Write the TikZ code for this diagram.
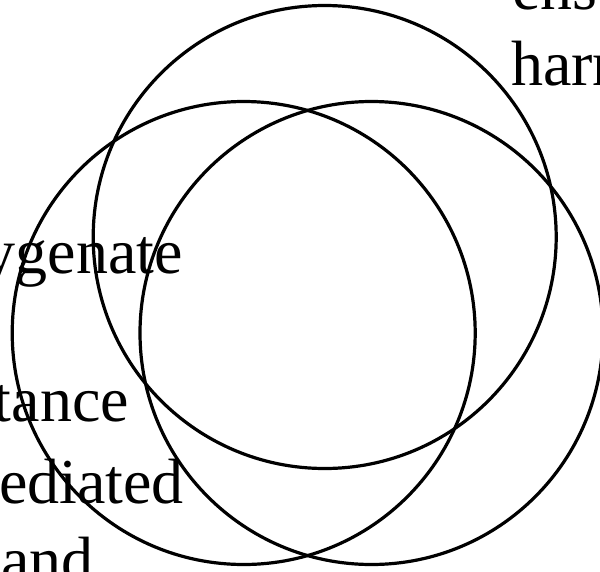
\documentclass[tikz,border=0pt]{standalone}
\usepackage{fontspec}
\setmainfont{Liberation Serif}
\begin{document}
\begin{tikzpicture}[x=1pt,y=-1pt,
  ring/.style={draw=black,line width=3.2pt,circle,minimum size=463pt,inner sep=0pt},
  lbl/.style={font=\fontsize{64}{76}\selectfont,inner sep=0pt,text=black}]
\useasboundingbox (0,0) rectangle (600,571);
\node[lbl,anchor=base east] (t1) at (183,273) {ygenate};
\node[lbl,anchor=base east] (t2) at (129,421) {tance};
\node[lbl,anchor=base east] (t3) at (184,503) {ediated};
\node[lbl,anchor=base west] (t4) at (1,581) {and};
\node[lbl,anchor=base west] (t5) at (512,9) {ens};
\node[lbl,anchor=base west] (t6) at (511,85) {harn};
\node[ring] (top) at (324.7,237) {};
\node[ring] (left) at (243.7,333) {};
\node[ring] (right) at (371.5,333) {};
\end{tikzpicture}
\end{document}
